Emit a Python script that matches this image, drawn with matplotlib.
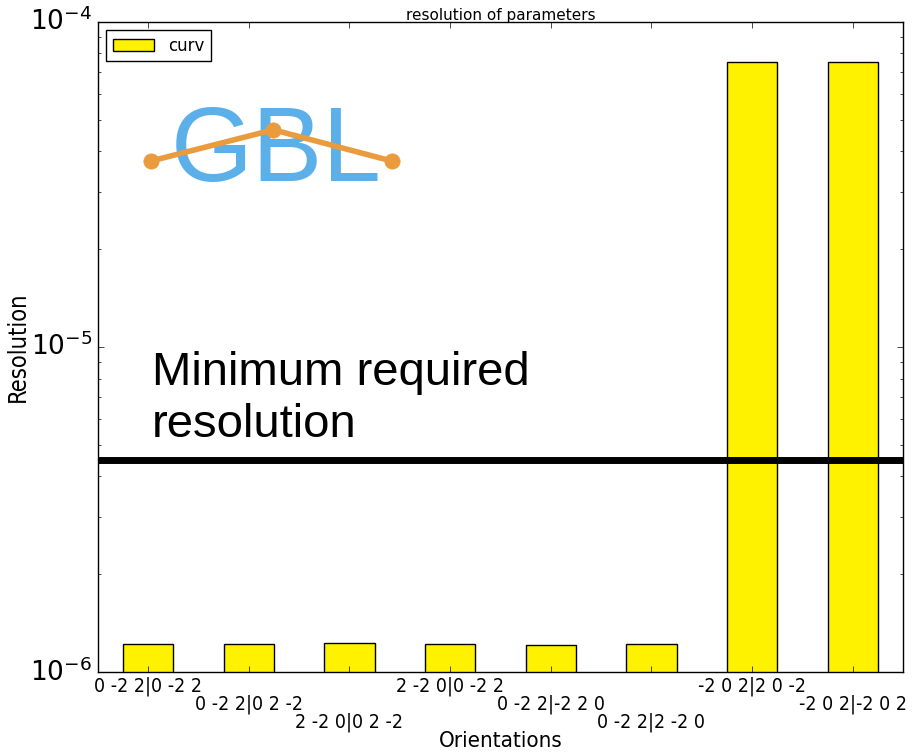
import matplotlib
matplotlib.use("Agg")
import matplotlib.pyplot as plt
import numpy as np

plt.style.use("classic")

orientations = ["0 -2 2|0 -2 2", "0 -2 2|0 2 -2", "2 -2 0|0 2 -2", "2 -2 0|0 -2 2",
                "0 -2 2|-2 2 0", "0 -2 2|2 -2 0", "-2 0 2|2 0 -2", "-2 0 2|-2 0 2"]
curv = [1.22e-6, 1.22e-6, 1.23e-6, 1.22e-6, 1.21e-6, 1.22e-6, 7.5e-5, 7.5e-5]
required = 4.5e-6

fig = plt.figure(figsize=(9.14, 7.52), dpi=100, facecolor="white")
ax = fig.add_axes([0.107, 0.106, 0.881, 0.865])

pos = np.arange(len(orientations)) + 0.5
ax.bar(pos, curv, width=0.5, align="center", color="#fff200", edgecolor="black",
       label="curv", zorder=2)
ax.axhline(required, color="black", linewidth=5, zorder=3)

ax.set_yscale("log")
ax.set_ylim(1e-6, 1e-4)
ax.set_xlim(0, len(orientations))

# staggered tick labels on three rows
stagger = ["\n" * (i % 3) + lab for i, lab in enumerate(orientations)]
ax.set_xticks(pos)
ax.set_xticklabels(stagger, fontsize=14, fontstretch="condensed", linespacing=0.95)
ax.tick_params(axis="y", labelsize=19)
ax.tick_params(axis="x", pad=3)

ax.set_xlabel("Orientations", fontsize=16, fontstretch="condensed", labelpad=-1)
ax.set_ylabel("Resolution", fontsize=17, fontstretch="condensed", labelpad=0)
ax.set_title("resolution of parameters", fontsize=11, pad=1)

ax.legend(loc="upper left", fontsize=12, handlelength=2.5, borderaxespad=0.5)

ax.text(0.067, 0.42, "Minimum required\nresolution", transform=ax.transAxes,
        fontsize=34, family="Liberation Sans", va="center", ha="left",
        linespacing=1.22, zorder=4)

# GBL logo
ax.text(0.221, 0.797, "GBL", transform=ax.transAxes, fontsize=76,
        family="Liberation Sans", color="#5cb0ea", ha="center", va="center",
        zorder=4)
ax.plot([0.066, 0.218, 0.365], [0.786, 0.834, 0.786], transform=ax.transAxes,
        color="#ea9b3e", linewidth=4, marker="o", markersize=11,
        markeredgecolor="#ea9b3e", zorder=5, clip_on=False)

fig.savefig("out.png", dpi=100, facecolor="white")
